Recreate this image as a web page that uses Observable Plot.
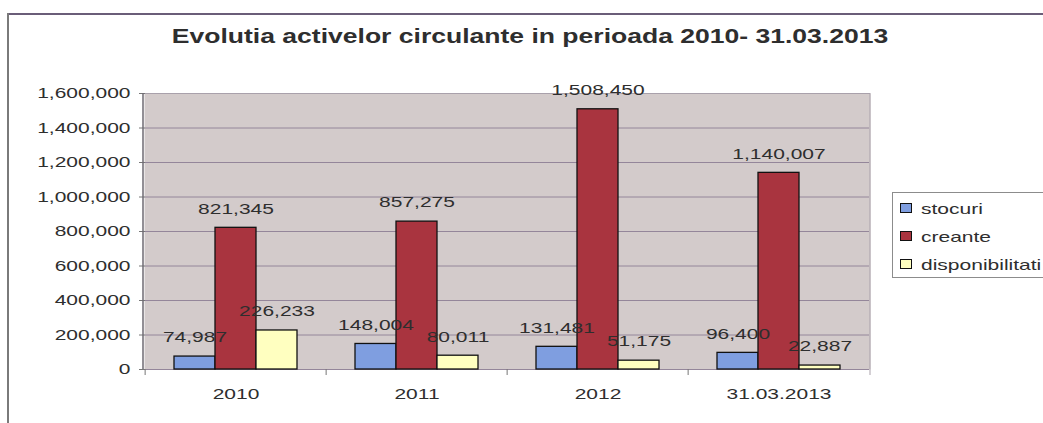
<!DOCTYPE html>
<html>
<head>
<meta charset="utf-8">
<script src="https://cdn.jsdelivr.net/npm/d3@7"></script>
<script src="https://cdn.jsdelivr.net/npm/@observablehq/plot@0.6"></script>
<style>
  html, body { margin: 0; padding: 0; background: #fff; }
  #wrap { position: relative; width: 1043px; height: 423px; overflow: hidden; font-family: 'Liberation Sans', Arial, sans-serif; }
  #title { position: absolute; left: 530px; top: 25px; white-space: nowrap; font-size: 19.5px; font-weight: bold; color: #2e2e2e; transform: translateX(-50%) scaleX(1.36); }
  #topline { position: absolute; left: 8px; top: 13px; width: 1035px; height: 2px; background: #6a5d78; }
  #leftline { position: absolute; left: 7px; top: 13px; width: 2px; height: 410px; background: #7a7a7a; }
  #legend { position: absolute; left: 892px; top: 192px; width: 170px; height: 84px; border: 1px solid #8c8c8c; background: #fff; }
  .item { position: absolute; left: 7px; height: 16px; display: flex; align-items: center; white-space: nowrap; }
  .sw { width: 10px; height: 8px; border: 1.3px solid #111; margin-right: 9px; }
  .lbl { font-size: 15px; color: #2e2e2e; transform-origin: left center; transform: scaleX(1.4); }
  #chart { position: absolute; left: 0; top: 0; }
</style>
</head>
<body>
<div id="wrap">
  <div id="topline"></div>
  <div id="leftline"></div>
  <div id="chart"></div>
  <div id="title">Evolutia activelor circulante in perioada 2010- 31.03.2013</div>
  <div id="legend"></div>
</div>
<script>
const categories = ["2010", "2011", "2012", "31.03.2013"];
const series = ["stocuri", "creante", "disponibilitati"];
const stocuri = [74987, 148004, 131481, 96400];
const creante = [821345, 857275, 1508450, 1140007];
const disponibilitati = [226233, 80011, 51175, 22887];
const yTicks = [0, 200000, 400000, 600000, 800000, 1000000, 1200000, 1400000, 1600000];
const colors = ["#7f9ee0", "#a9343f", "#ffffc0"];

const seriesValues = [stocuri, creante, disponibilitati];
const data = categories.flatMap((c, i) =>
  series.map((s, j) => ({category: c, series: s, value: seriesValues[j][i]}))
);
const fmt = d3.format(",");

const W = 1043, H = 423, ML = 143, MR = 173, MT = 93, MB = 54;
const band = (W - ML - MR) / categories.length;

const chart = Plot.plot({
  width: W,
  height: H,
  marginTop: MT,
  marginBottom: MB,
  marginLeft: ML,
  marginRight: MR,
  style: {fontFamily: "'Liberation Sans', Arial, sans-serif", fontSize: "15px", color: "#2e2e2e", background: "transparent"},
  fx: {domain: categories, padding: 0, label: null, axis: null},
  x: {domain: series, paddingInner: 0, paddingOuter: 0.66, axis: null},
  y: {domain: [0, 1600000], label: null},
  color: {domain: series, range: colors},
  marks: [
    Plot.frame({fill: "#d3cbcb", stroke: null, insetLeft: -1, insetRight: -1}),
    Plot.gridY(yTicks, {stroke: "#94869a", strokeOpacity: 1, strokeWidth: 1}),
    Plot.frame({anchor: "top", stroke: "#a9a1ab"}),
    Plot.barY(data, {fx: "category", x: "series", y: "value", fill: "series", stroke: "#111", strokeWidth: 1.3}),
    Plot.text(data, {fx: "category", x: "series", y: "value", text: d => fmt(d.value), dy: -19, fill: "#2e2e2e", fontSize: 15}),
    Plot.axisY({ticks: yTicks, tickFormat: fmt, tickSize: 6, tickPadding: 9, stroke: "#777", fill: "#2e2e2e", label: null}),
    Plot.axisFx({anchor: "bottom", tickSize: 6, text: null, dx: -band / 2, stroke: "#777", label: null}),
    Plot.axisFx({anchor: "bottom", tickSize: 0, tickPadding: 19, label: null, fill: "#2e2e2e"})
  ]
});

document.getElementById("chart").appendChild(chart);

// plot-area edges: dark value-axis line on the left, light border on the right
const svg = d3.select(chart);
svg.append("line").attr("x1", ML).attr("x2", ML).attr("y1", MT).attr("y2", H - MB)
  .attr("stroke", "#6e6a72").attr("stroke-width", 1.5);
svg.append("line").attr("x1", W - MR).attr("x2", W - MR).attr("y1", MT).attr("y2", H - MB + 6)
  .attr("stroke", "#a9a1ab").attr("stroke-width", 1);

// horizontally stretched lettering, as in the reference picture
chart.querySelectorAll("text").forEach(t => {
  const anchor = getComputedStyle(t).textAnchor;
  const bb = t.getBBox();
  const ox = anchor === "end" ? bb.x + bb.width : anchor === "start" ? bb.x : bb.x + bb.width / 2;
  const existing = t.getAttribute("transform") || "";
  t.setAttribute("transform", `${existing} translate(${ox},0) scale(1.4,1) translate(${-ox},0)`);
});

// legend
const legend = document.getElementById("legend");
const tops = [7, 35, 63];
series.forEach((s, i) => {
  const item = document.createElement("div");
  item.className = "item";
  item.style.top = tops[i] + "px";
  const sw = document.createElement("div");
  sw.className = "sw";
  sw.style.background = colors[i];
  const lb = document.createElement("span");
  lb.className = "lbl";
  lb.textContent = s;
  item.appendChild(sw);
  item.appendChild(lb);
  legend.appendChild(item);
});
</script>
</body>
</html>
